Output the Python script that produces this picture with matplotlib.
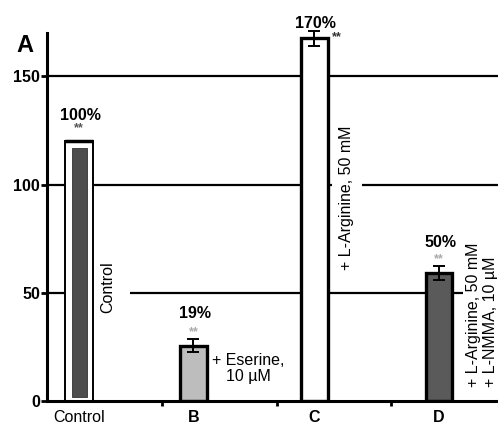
import numpy as np
import matplotlib
matplotlib.use("Agg")
import matplotlib.pyplot as plt

plt.rcParams['font.family'] = ['Liberation Sans', 'DejaVu Sans']

# data
groups = ["Control", "B", "C", "D"]
heights = [120, 25.6, 167.5, 59]
errors = [0, 3.0, 3.5, 3.2]
control_inner = 117
percent_labels = ["100%", "19%", "170%", "50%"]
yticks = [0, 50, 100, 150]

# layout (x in bar-spacing units)
xpos = np.array([0, 0.954, 1.96, 3.0])
sep_ticks = [0.69, 1.65, 2.6]
fills = ['white', '#bdbdbd', 'white', '#5a5a5a']

fig = plt.figure(figsize=(4.98, 4.29), dpi=100)
ax = fig.add_axes([47/498, 28/429, 451/498, 368/429])
ax.set_xlim(-0.2667, 3.4917)
ax.set_ylim(0, 170)

# grid lines behind everything
for y in [50, 100, 150]:
    ax.axhline(y, color='black', linewidth=1.6, zorder=0)

# control: white outer box with a dark inner bar
ax.bar(xpos[0], heights[0], width=0.233, color='white', edgecolor='black',
       linewidth=1.4, zorder=2)
ax.plot([xpos[0] - 0.1165, xpos[0] + 0.1165], [heights[0], heights[0]],
        color='black', linewidth=2.5, zorder=3, solid_capstyle='butt')
ax.bar(xpos[0], control_inner - 2, bottom=2, width=0.125, color='#4d4d4d',
       edgecolor='#333333', linewidth=0.6, zorder=3)

# treatment bars
for i in range(1, 4):
    ax.bar(xpos[i], heights[i], width=0.222, color=fills[i], edgecolor='black',
           linewidth=2.4, zorder=2)
    ax.errorbar(xpos[i], heights[i], yerr=errors[i], color='black', capsize=4,
                capthick=1.4, elinewidth=1.4, zorder=4, clip_on=False)

# spines / ticks
for s in ['top', 'right']:
    ax.spines[s].set_visible(False)
ax.spines['left'].set_linewidth(2.2)
ax.spines['bottom'].set_linewidth(2.2)
ax.set_yticks(yticks)
ax.set_yticklabels([str(v) for v in yticks], fontsize=11.5, fontweight='bold')
ax.tick_params(axis='y', length=4, width=2, pad=1)
ax.set_xticks(sep_ticks)
ax.set_xticklabels([])
ax.tick_params(axis='x', length=3.5, width=2, direction='out')

# group names under the axis
for i, g in enumerate(groups):
    ax.text(xpos[i], -7.5, g, ha='center', va='center', fontsize=11.5,
            fontweight='normal' if i == 0 else 'bold')

ax.text(-0.45, 164, "A", fontsize=17, fontweight='bold', ha='center',
        va='center', transform=ax.transData, clip_on=False)

# percentages and stars
pct_y = [132, 40.6, 174.4, 73]
star_y = [126, 31.8, 168, 65.5]
star_x = [xpos[0], xpos[1], xpos[2] + 0.19, xpos[3]]
star_c = ['#555555', '#aaaaaa', '#333333', '#aaaaaa']
for i in range(4):
    ax.text(xpos[i] + 0.01, pct_y[i], percent_labels[i], ha='center', va='center',
            fontsize=11.5, fontweight='bold', clip_on=False)
    ax.text(star_x[i], star_y[i], "**", ha='center', va='center',
            fontsize=9, fontweight='bold', color=star_c[i], clip_on=False)

# treatment labels (white boxes cut the grid lines, bars stay on top)
box = dict(facecolor='white', edgecolor='none', boxstyle='square,pad=0.9')
ax.text(0.242, 52.6, "Control", rotation=90, ha='center', va='center',
        fontsize=11.5, bbox=box, zorder=1)
ax.text(1.408, 15, "+ Eserine,\n10 \u00b5M", ha='center', va='center',
        fontsize=11.5, multialignment='center', linespacing=1.05, zorder=1)
ax.text(2.233, 60.5, "+ L-Arginine, 50 mM", rotation=90, ha='center',
        va='bottom', fontsize=11.5, zorder=1,
        bbox=dict(facecolor='white', edgecolor='none', boxstyle='square,pad=0.45'))
ax.text(3.36, 6.5, "+ L-Arginine, 50 mM\n+ L-NMMA, 10 \u00b5M", rotation=90,
        ha='center', va='bottom', fontsize=11.5, multialignment='left',
        linespacing=1.15, zorder=1, clip_on=False,
        bbox=dict(facecolor='white', edgecolor='none', boxstyle='square,pad=0.2'))

fig.savefig("out.png", dpi=100)
